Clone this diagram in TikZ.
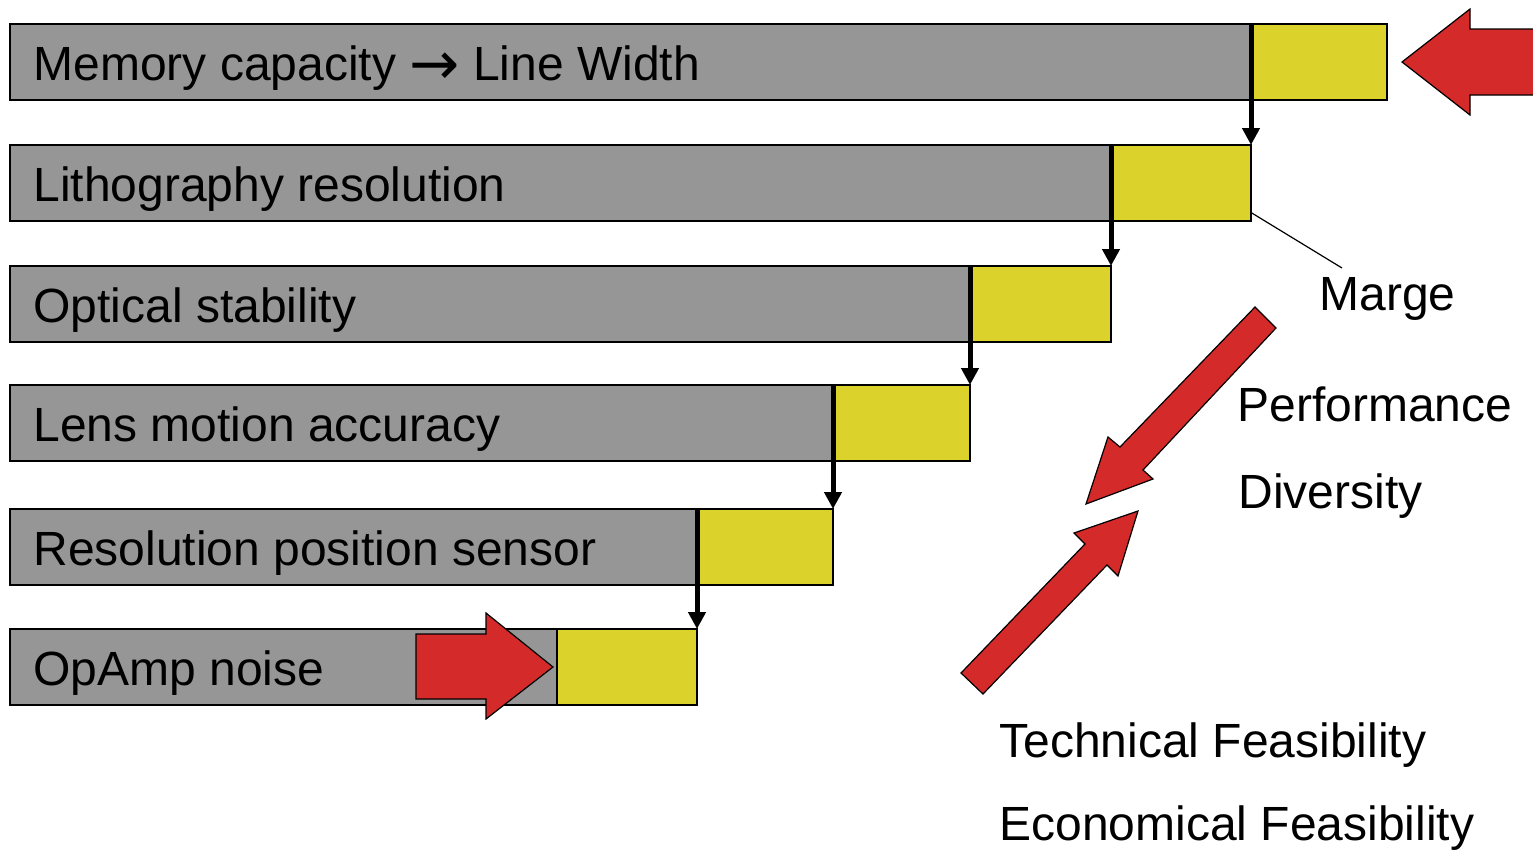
\documentclass[tikz,border=0pt]{standalone}
\usepackage{fontspec}
\setmainfont{Liberation Sans}
\newfontfamily\arrowfont[Scale=1.25]{DejaVu Sans}
\usetikzlibrary{arrows.meta}
\usetikzlibrary{calc}

\definecolor{bargray}{RGB}{150,150,150}
\definecolor{baryellow}{RGB}{219,210,43}
\definecolor{arrowred}{RGB}{213,42,42}

\begin{document}
\begin{tikzpicture}[x=0.5pt,y=-0.5pt,
        graybar/.style={draw,line width=1pt,fill=bargray,inner sep=0pt,outer sep=0pt,anchor=north west,minimum height=37.75pt},
        yellowbox/.style={draw,line width=1pt,fill=baryellow,inner sep=0pt,outer sep=0pt,anchor=north west,minimum height=37.75pt},
        bartext/.style={anchor=base west,inner sep=0pt,font=\fontsize{24pt}{28pt}\selectfont},
        stepdown/.style={line width=2.5pt,-{Triangle[width=8.5pt,length=8.5pt]}},
        redarrow/.style={draw,line width=0.6pt,fill=arrowred,line join=miter}]
        \useasboundingbox (0,0) rectangle (1533,852);

        % bars: top / end of gray / end of yellow
        \foreach \i/\top/\gx/\yx/\txt in {
            1/24/1251/1387/{Memory capacity \raisebox{-2pt}{\arrowfont →} Line Width},
            2/145/1111/1251/{Lithography resolution},
            3/266/970/1111/{Optical stability},
            4/385/833/970/{Lens motion accuracy},
            5/509/697/833/{Resolution position sensor},
            6/629/557/697/{OpAmp noise}}{
            \pgfmathsetmacro\gw{(\gx-10)/2}
            \pgfmathsetmacro\yw{(\yx-\gx)/2}
            \node[graybar,minimum width=\gw pt] (g\i) at (10,\top) {};
            \node[yellowbox,minimum width=\yw pt] (y\i) at (\gx,\top) {};
            \node[bartext] (t\i) at ($(g\i.north west)+(23,56)$) {\txt};
        }
        \foreach \i/\j in {1/2,2/3,3/4,4/5,5/6}
            \draw[stepdown] (g\i.north east) -- (y\j.north east);

        % red arrows
        \draw[redarrow] (1402,62) -- (1470,9) -- (1470,29) -- (1545,29) -- (1545,95) -- (1470,95) -- (1470,115) -- cycle;
        \draw[redarrow] (416,634) -- (486,634) -- (486,613) -- (553,667) -- (486,719) -- (486,699) -- (416,699) -- cycle;
        \draw[redarrow] (1255,307) -- (1276,328) -- (1143,470) -- (1153,479) -- (1086,504) -- (1108,437) -- (1120,447) -- cycle;
        \draw[redarrow] (961,673) -- (1085,544) -- (1074,533) -- (1138,511) -- (1118,576) -- (1107,565) -- (983,694) -- cycle;

        % labels
        \node[bartext] (marge) at (1319,310) {Marge};
        \node[bartext] (perf) at (1237,421) {Performance};
        \node[bartext] (div) at (1238,508) {Diversity};
        \node[bartext] (tech) at (999,757) {Technical Feasibility};
        \node[bartext] (econ) at (999,840) {Economical Feasibility};

        \coordinate (margeend) at (1342,268);
        \draw[line width=0.6pt] ($(y2.south east)+(0,-8)$) -- (margeend);
\end{tikzpicture}
\end{document}
